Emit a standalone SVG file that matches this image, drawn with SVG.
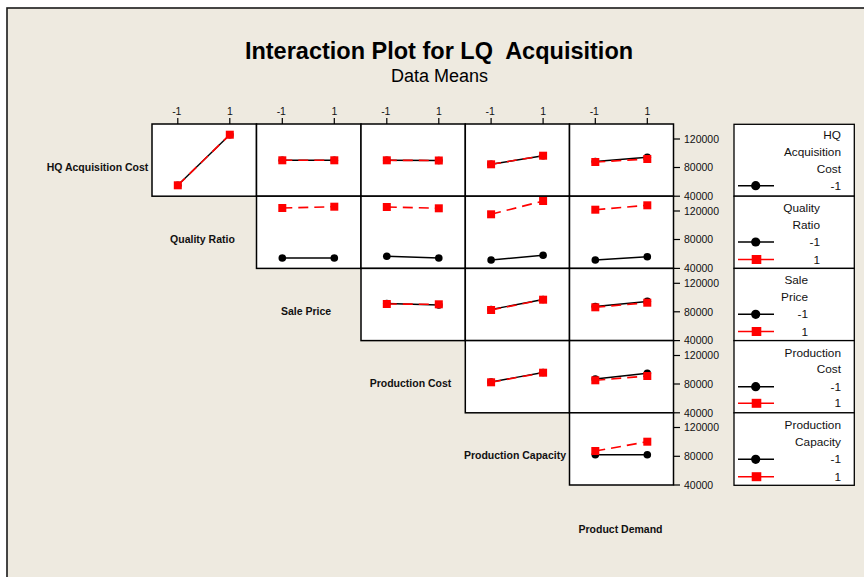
<svg xmlns="http://www.w3.org/2000/svg" width="864" height="577" viewBox="0 0 864 577">
  <style>
    .frame { fill: #EEEAE0; stroke: #1a1a1a; stroke-width: 1.6; }
    .cell { fill: #ffffff; stroke: #000000; stroke-width: 1.5; }
    .lbox { fill: #ffffff; stroke: #000000; stroke-width: 1.3; }
    .tick { stroke: #000000; stroke-width: 1.2; }
    .ticktxt { font-family: "Liberation Sans", Arial, sans-serif; font-size: 10.5px; fill: #111111; }
    .rowlbl { font-family: "Liberation Sans", Arial, sans-serif; font-size: 10.5px; font-weight: bold; fill: #111111; text-anchor: middle; }
    .legtxt { font-family: "Liberation Sans", Arial, sans-serif; font-size: 11.8px; fill: #111111; text-anchor: end; }
    .title { font-family: "Liberation Sans", Arial, sans-serif; font-size: 23.5px; font-weight: bold; fill: #000000; text-anchor: middle; white-space: pre; }
    .subtitle { font-family: "Liberation Sans", Arial, sans-serif; font-size: 18px; fill: #000000; text-anchor: middle; }
    .bline { fill: none; stroke: #000000; stroke-width: 1.4; }
    .rline { fill: none; stroke: #ff0000; stroke-width: 1.6; stroke-dasharray: 10 6; }
    .rsolid { fill: none; stroke: #ff0000; stroke-width: 1.4; }
    .bdot { fill: #000000; }
    .rsq { fill: #ff0000; }
  </style>
  <defs>
    <circle id="dot" r="3.8"/>
    <rect id="sq" x="-4" y="-4" width="8" height="8"/>
    <circle id="ldot" r="4.6"/>
    <rect id="lsq" x="-4.8" y="-4.5" width="9.6" height="9"/>
  </defs>

  <!-- page background and frame -->
  <rect x="0" y="0" width="864" height="577" fill="#ffffff"/>
  <rect class="frame" x="7" y="8" width="880" height="590"/>

  <!-- titles -->
  <text class="title" x="439" y="59" xml:space="preserve">Interaction Plot for LQ  Acquisition</text>
  <text class="subtitle" x="439.5" y="82">Data Means</text>

  <!-- top axis: -1 / 1 per column -->
  <g id="top-axis">
    <g class="tick">
      <line x1="177.8" y1="118" x2="177.8" y2="124"/><line x1="229.8" y1="118" x2="229.8" y2="124"/>
      <line x1="282.3" y1="118" x2="282.3" y2="124"/><line x1="334.3" y1="118" x2="334.3" y2="124"/>
      <line x1="386.8" y1="118" x2="386.8" y2="124"/><line x1="438.8" y1="118" x2="438.8" y2="124"/>
      <line x1="491.1" y1="118" x2="491.1" y2="124"/><line x1="543.1" y1="118" x2="543.1" y2="124"/>
      <line x1="595.3" y1="118" x2="595.3" y2="124"/><line x1="647.3" y1="118" x2="647.3" y2="124"/>
    </g>
    <g class="ticktxt" text-anchor="middle">
      <text x="176.8" y="115">-1</text><text x="229.8" y="115">1</text>
      <text x="281.3" y="115">-1</text><text x="334.3" y="115">1</text>
      <text x="385.8" y="115">-1</text><text x="438.8" y="115">1</text>
      <text x="490.1" y="115">-1</text><text x="543.1" y="115">1</text>
      <text x="594.3" y="115">-1</text><text x="647.3" y="115">1</text>
    </g>
  </g>

  <!-- row labels -->
  <g id="row-labels">
    <text class="rowlbl" x="97.5" y="170.5">HQ Acquisition Cost</text>
    <text class="rowlbl" x="202.5" y="242.5">Quality Ratio</text>
    <text class="rowlbl" x="306" y="315">Sale Price</text>
    <text class="rowlbl" x="410.5" y="387">Production Cost</text>
    <text class="rowlbl" x="515" y="459">Production Capacity</text>
    <text class="rowlbl" x="620.5" y="532.5">Product Demand</text>
  </g>

  <!-- row 0: HQ Acquisition Cost -->
  <g id="panel-r0-c0">
    <rect class="cell" x="152" y="124" width="104.5" height="72.2"/>
    <line class="bline" x1="177.8" y1="185.3" x2="229.8" y2="134.7"/>
    <line class="rline" x1="177.8" y1="185.3" x2="229.8" y2="134.7"/>
    <use href="#dot" class="bdot" x="177.8" y="185.3"/><use href="#dot" class="bdot" x="229.8" y="134.7"/>
    <use href="#sq" class="rsq" x="177.8" y="185.3"/><use href="#sq" class="rsq" x="229.8" y="134.7"/>
  </g>
  <g id="panel-r0-c1">
    <rect class="cell" x="256.5" y="124" width="104.5" height="72.2"/>
    <line class="bline" x1="282.3" y1="160.3" x2="334.3" y2="160.3"/>
    <line class="rline" x1="282.3" y1="160.3" x2="334.3" y2="160.3"/>
    <use href="#dot" class="bdot" x="282.3" y="160.3"/><use href="#dot" class="bdot" x="334.3" y="160.3"/>
    <use href="#sq" class="rsq" x="282.3" y="160.3"/><use href="#sq" class="rsq" x="334.3" y="160.3"/>
  </g>
  <g id="panel-r0-c2">
    <rect class="cell" x="361" y="124" width="104.3" height="72.2"/>
    <line class="bline" x1="386.8" y1="160.3" x2="438.8" y2="160.5"/>
    <line class="rline" x1="386.8" y1="160.3" x2="438.8" y2="160.5"/>
    <use href="#dot" class="bdot" x="386.8" y="160.3"/><use href="#dot" class="bdot" x="438.8" y="160.5"/>
    <use href="#sq" class="rsq" x="386.8" y="160.3"/><use href="#sq" class="rsq" x="438.8" y="160.5"/>
  </g>
  <g id="panel-r0-c3">
    <rect class="cell" x="465.3" y="124" width="104.2" height="72.2"/>
    <line class="bline" x1="491.1" y1="164.3" x2="543.1" y2="155.7"/>
    <line class="rline" x1="491.1" y1="164.3" x2="543.1" y2="155.7"/>
    <use href="#dot" class="bdot" x="491.1" y="164.3"/><use href="#dot" class="bdot" x="543.1" y="155.7"/>
    <use href="#sq" class="rsq" x="491.1" y="164.3"/><use href="#sq" class="rsq" x="543.1" y="155.7"/>
  </g>
  <g id="panel-r0-c4">
    <rect class="cell" x="569.5" y="124" width="104" height="72.2"/>
    <line class="bline" x1="595.3" y1="161.5" x2="647.3" y2="157.3"/>
    <line class="rline" x1="595.3" y1="162" x2="647.3" y2="159"/>
    <use href="#dot" class="bdot" x="595.3" y="161.5"/><use href="#dot" class="bdot" x="647.3" y="157.3"/>
    <use href="#sq" class="rsq" x="595.3" y="162"/><use href="#sq" class="rsq" x="647.3" y="159"/>
  </g>

  <!-- row 1: Quality Ratio -->
  <g id="panel-r1-c1">
    <rect class="cell" x="256.5" y="196.2" width="104.5" height="72.2"/>
    <line class="bline" x1="282.3" y1="258" x2="334.3" y2="258"/>
    <line class="rline" x1="282.3" y1="208" x2="334.3" y2="206.7"/>
    <use href="#dot" class="bdot" x="282.3" y="258"/><use href="#dot" class="bdot" x="334.3" y="258"/>
    <use href="#sq" class="rsq" x="282.3" y="208"/><use href="#sq" class="rsq" x="334.3" y="206.7"/>
  </g>
  <g id="panel-r1-c2">
    <rect class="cell" x="361" y="196.2" width="104.3" height="72.2"/>
    <line class="bline" x1="386.8" y1="256.3" x2="438.8" y2="258"/>
    <line class="rline" x1="386.8" y1="207" x2="438.8" y2="208.3"/>
    <use href="#dot" class="bdot" x="386.8" y="256.3"/><use href="#dot" class="bdot" x="438.8" y="258"/>
    <use href="#sq" class="rsq" x="386.8" y="207"/><use href="#sq" class="rsq" x="438.8" y="208.3"/>
  </g>
  <g id="panel-r1-c3">
    <rect class="cell" x="465.3" y="196.2" width="104.2" height="72.2"/>
    <line class="bline" x1="491.1" y1="260" x2="543.1" y2="255.3"/>
    <line class="rline" x1="491.1" y1="214.3" x2="543.1" y2="201"/>
    <use href="#dot" class="bdot" x="491.1" y="260"/><use href="#dot" class="bdot" x="543.1" y="255.3"/>
    <use href="#sq" class="rsq" x="491.1" y="214.3"/><use href="#sq" class="rsq" x="543.1" y="201"/>
  </g>
  <g id="panel-r1-c4">
    <rect class="cell" x="569.5" y="196.2" width="104" height="72.2"/>
    <line class="bline" x1="595.3" y1="260" x2="647.3" y2="256.7"/>
    <line class="rline" x1="595.3" y1="209.7" x2="647.3" y2="205.3"/>
    <use href="#dot" class="bdot" x="595.3" y="260"/><use href="#dot" class="bdot" x="647.3" y="256.7"/>
    <use href="#sq" class="rsq" x="595.3" y="209.7"/><use href="#sq" class="rsq" x="647.3" y="205.3"/>
  </g>

  <!-- row 2: Sale Price -->
  <g id="panel-r2-c2">
    <rect class="cell" x="361" y="268.4" width="104.3" height="72.2"/>
    <line class="bline" x1="386.8" y1="303.5" x2="438.8" y2="305"/>
    <line class="rline" x1="386.8" y1="304" x2="438.8" y2="304.3"/>
    <use href="#dot" class="bdot" x="386.8" y="303.5"/><use href="#dot" class="bdot" x="438.8" y="305"/>
    <use href="#sq" class="rsq" x="386.8" y="304"/><use href="#sq" class="rsq" x="438.8" y="304.3"/>
  </g>
  <g id="panel-r2-c3">
    <rect class="cell" x="465.3" y="268.4" width="104.2" height="72.2"/>
    <line class="bline" x1="491.1" y1="309.5" x2="543.1" y2="299.5"/>
    <line class="rline" x1="491.1" y1="310" x2="543.1" y2="299.7"/>
    <use href="#dot" class="bdot" x="491.1" y="309.5"/><use href="#dot" class="bdot" x="543.1" y="299.5"/>
    <use href="#sq" class="rsq" x="491.1" y="310"/><use href="#sq" class="rsq" x="543.1" y="299.7"/>
  </g>
  <g id="panel-r2-c4">
    <rect class="cell" x="569.5" y="268.4" width="104" height="72.2"/>
    <line class="bline" x1="595.3" y1="306.5" x2="647.3" y2="301.5"/>
    <line class="rline" x1="595.3" y1="307.3" x2="647.3" y2="302.7"/>
    <use href="#dot" class="bdot" x="595.3" y="306.5"/><use href="#dot" class="bdot" x="647.3" y="301.3"/>
    <use href="#sq" class="rsq" x="595.3" y="307.3"/><use href="#sq" class="rsq" x="647.3" y="302.7"/>
  </g>

  <!-- row 3: Production Cost -->
  <g id="panel-r3-c3">
    <rect class="cell" x="465.3" y="340.6" width="104.2" height="72.2"/>
    <line class="bline" x1="491.1" y1="382" x2="543.1" y2="372.5"/>
    <line class="rline" x1="491.1" y1="382.3" x2="543.1" y2="372.7"/>
    <use href="#dot" class="bdot" x="491.1" y="382"/><use href="#dot" class="bdot" x="543.1" y="372.5"/>
    <use href="#sq" class="rsq" x="491.1" y="382.3"/><use href="#sq" class="rsq" x="543.1" y="372.7"/>
  </g>
  <g id="panel-r3-c4">
    <rect class="cell" x="569.5" y="340.6" width="104" height="72.2"/>
    <line class="bline" x1="595.3" y1="379" x2="647.3" y2="373.3"/>
    <line class="rline" x1="595.3" y1="380.3" x2="647.3" y2="376"/>
    <use href="#dot" class="bdot" x="595.3" y="379"/><use href="#dot" class="bdot" x="647.3" y="373.3"/>
    <use href="#sq" class="rsq" x="595.3" y="380.3"/><use href="#sq" class="rsq" x="647.3" y="376"/>
  </g>

  <!-- row 4: Production Capacity -->
  <g id="panel-r4-c4">
    <rect class="cell" x="569.5" y="412.8" width="104" height="72.2"/>
    <line class="bline" x1="595.3" y1="454.7" x2="647.3" y2="454.7"/>
    <line class="rline" x1="595.3" y1="451" x2="647.3" y2="441.7"/>
    <use href="#dot" class="bdot" x="595.3" y="454.7"/><use href="#dot" class="bdot" x="647.3" y="454.7"/>
    <use href="#sq" class="rsq" x="595.3" y="451"/><use href="#sq" class="rsq" x="647.3" y="441.7"/>
  </g>

  <!-- right value axes, one per row -->
  <g id="value-axes">
    <g class="tick">
      <line x1="673.5" y1="139" x2="680" y2="139"/><line x1="673.5" y1="167.5" x2="680" y2="167.5"/><line x1="673.5" y1="196.2" x2="680" y2="196.2"/>
      <line x1="673.5" y1="211" x2="680" y2="211"/><line x1="673.5" y1="239.5" x2="680" y2="239.5"/><line x1="673.5" y1="268.4" x2="680" y2="268.4"/>
      <line x1="673.5" y1="283.3" x2="680" y2="283.3"/><line x1="673.5" y1="311.8" x2="680" y2="311.8"/><line x1="673.5" y1="340.6" x2="680" y2="340.6"/>
      <line x1="673.5" y1="355.5" x2="680" y2="355.5"/><line x1="673.5" y1="384" x2="680" y2="384"/><line x1="673.5" y1="412.8" x2="680" y2="412.8"/>
      <line x1="673.5" y1="427.5" x2="680" y2="427.5"/><line x1="673.5" y1="456.3" x2="680" y2="456.3"/><line x1="673.5" y1="485" x2="680" y2="485"/>
    </g>
    <g class="ticktxt">
      <text x="684" y="142.8">120000</text><text x="684" y="171.3">80000</text><text x="684" y="200">40000</text>
      <text x="684" y="214.8">120000</text><text x="684" y="243.3">80000</text><text x="684" y="272.2">40000</text>
      <text x="684" y="287.1">120000</text><text x="684" y="315.6">80000</text><text x="684" y="344.4">40000</text>
      <text x="684" y="359.3">120000</text><text x="684" y="387.8">80000</text><text x="684" y="416.6">40000</text>
      <text x="684" y="431.3">120000</text><text x="684" y="460.1">80000</text><text x="684" y="488.8">40000</text>
    </g>
  </g>

  <!-- legends, one box per row -->
  <g id="legend-hq-acquisition-cost">
    <rect class="lbox" x="734" y="124.3" width="120.3" height="71.9"/>
    <text class="legtxt" x="841" y="139">HQ</text>
    <text class="legtxt" x="841" y="155.5">Acquisition</text>
    <text class="legtxt" x="841" y="172.5">Cost</text>
    <line class="bline" x1="738" y1="185.7" x2="774" y2="185.7"/>
    <use href="#ldot" class="bdot" x="755.7" y="185.7"/>
    <text class="legtxt" x="841" y="189.7">-1</text>
  </g>
  <g id="legend-quality-ratio">
    <rect class="lbox" x="734" y="196.2" width="120.3" height="72.2"/>
    <text class="legtxt" x="820" y="212">Quality</text>
    <text class="legtxt" x="820" y="228.5">Ratio</text>
    <line class="bline" x1="738" y1="242" x2="774" y2="242"/>
    <use href="#ldot" class="bdot" x="755.7" y="242"/>
    <text class="legtxt" x="820" y="246">-1</text>
    <line class="rsolid" x1="738" y1="259.5" x2="774" y2="259.5"/>
    <use href="#lsq" class="rsq" x="756.5" y="259.5"/>
    <text class="legtxt" x="820" y="263.5">1</text>
  </g>
  <g id="legend-sale-price">
    <rect class="lbox" x="734" y="268.4" width="120.3" height="72.2"/>
    <text class="legtxt" x="808" y="284">Sale</text>
    <text class="legtxt" x="808" y="300.5">Price</text>
    <line class="bline" x1="738" y1="314.3" x2="774" y2="314.3"/>
    <use href="#ldot" class="bdot" x="755.7" y="314.3"/>
    <text class="legtxt" x="808" y="318.3">-1</text>
    <line class="rsolid" x1="738" y1="331.5" x2="774" y2="331.5"/>
    <use href="#lsq" class="rsq" x="756.5" y="331.5"/>
    <text class="legtxt" x="808" y="335.5">1</text>
  </g>
  <g id="legend-production-cost">
    <rect class="lbox" x="734" y="340.6" width="120.3" height="72.2"/>
    <text class="legtxt" x="841" y="356.5">Production</text>
    <text class="legtxt" x="841" y="372.5">Cost</text>
    <line class="bline" x1="738" y1="386.7" x2="774" y2="386.7"/>
    <use href="#ldot" class="bdot" x="755.7" y="386.7"/>
    <text class="legtxt" x="841" y="390.7">-1</text>
    <line class="rsolid" x1="738" y1="403.3" x2="774" y2="403.3"/>
    <use href="#lsq" class="rsq" x="756.5" y="403.3"/>
    <text class="legtxt" x="841" y="407.3">1</text>
  </g>
  <g id="legend-production-capacity">
    <rect class="lbox" x="734" y="412.8" width="120.3" height="72.5"/>
    <text class="legtxt" x="841" y="429">Production</text>
    <text class="legtxt" x="841" y="445.5">Capacity</text>
    <line class="bline" x1="738" y1="459.3" x2="774" y2="459.3"/>
    <use href="#ldot" class="bdot" x="755.7" y="459.3"/>
    <text class="legtxt" x="841" y="463.3">-1</text>
    <line class="rsolid" x1="738" y1="476.7" x2="774" y2="476.7"/>
    <use href="#lsq" class="rsq" x="756.5" y="476.7"/>
    <text class="legtxt" x="841" y="480.7">1</text>
  </g>

  <!-- no node-to-node connectors in this chart -->
  <g id="connectors"/>
</svg>
